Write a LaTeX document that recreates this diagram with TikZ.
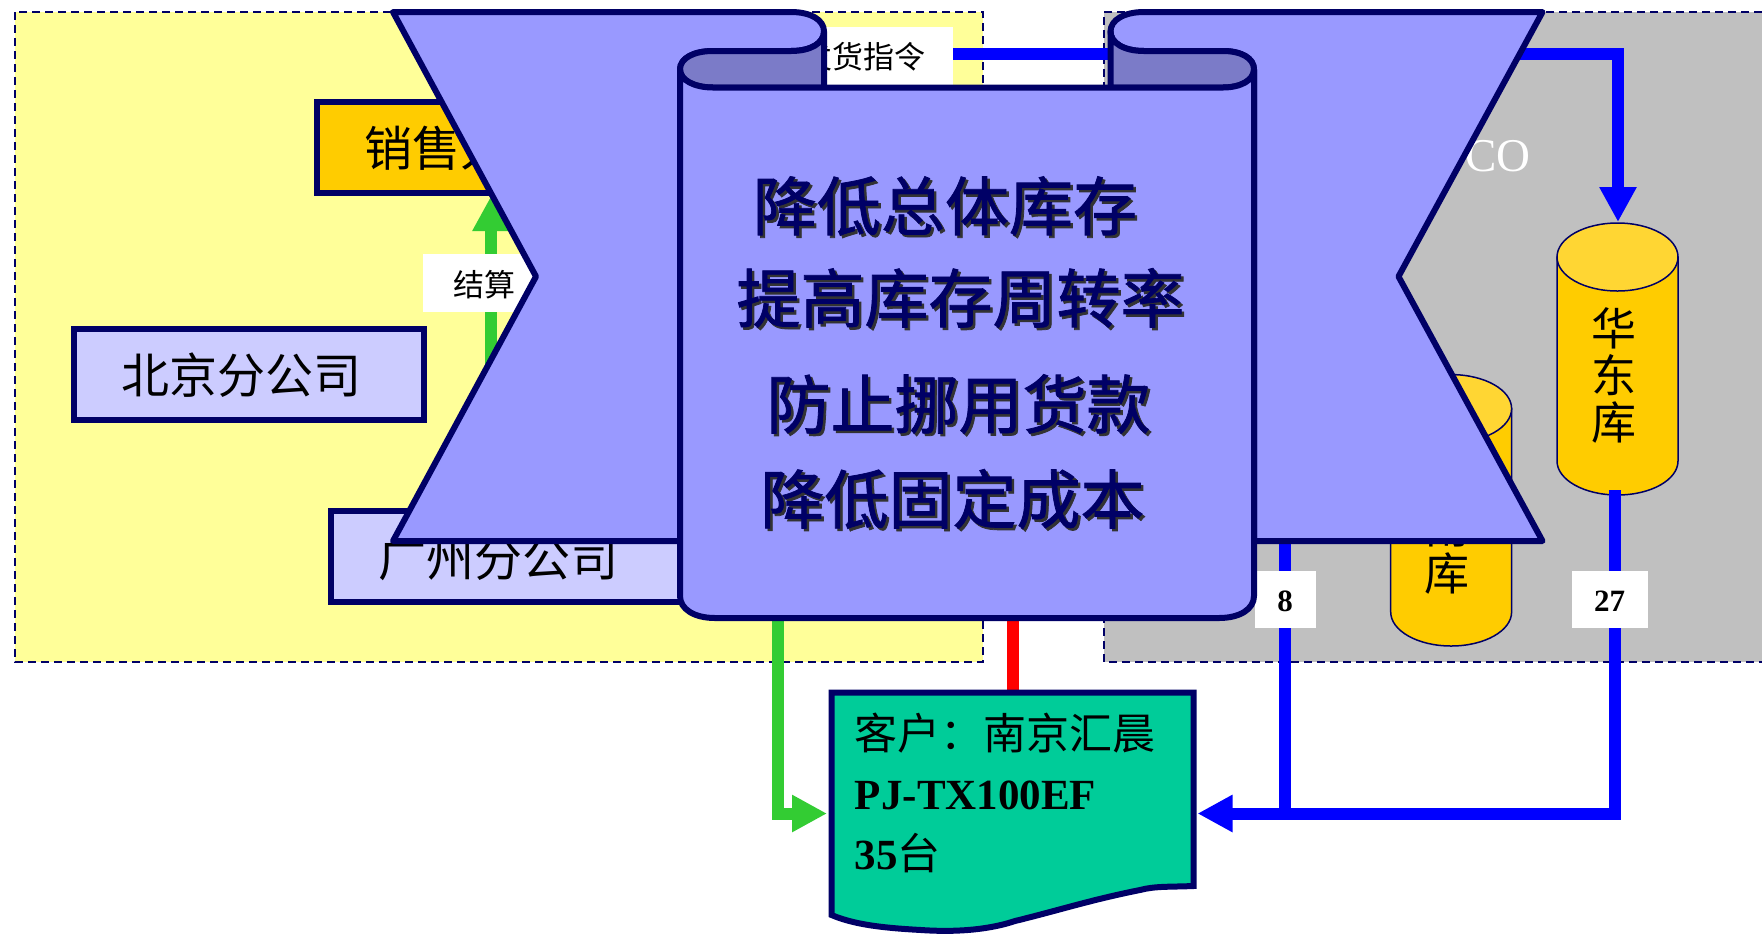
\documentclass[tikz,border=0pt]{standalone}
\usepackage{fontspec}
\setmainfont{Liberation Serif}
\newfontfamily\cjk{Noto Sans CJK SC}
\newfontfamily\cjkfat[FakeBold=1.2]{Noto Sans CJK SC}
\usetikzlibrary{arrows.meta}
\definecolor{navyc}{HTML}{000066}
\definecolor{ribbonc}{HTML}{9999FF}
\definecolor{foldc}{HTML}{7B7BC8}
\definecolor{yellowz}{HTML}{FFFF99}
\definecolor{greyz}{HTML}{C0C0C0}
\definecolor{orangec}{HTML}{FFCC00}
\definecolor{orangel}{HTML}{FFD633}
\definecolor{lilac}{HTML}{CCCCFF}
\definecolor{tealc}{HTML}{00CC99}
\definecolor{greenc}{HTML}{33CC33}
\definecolor{bluec}{HTML}{0000FF}
\definecolor{redc}{HTML}{FF0000}
\newcommand{\fsz}[1]{\fontsize{#1}{#1}\selectfont}
\tikzset{
  zoneline/.style={draw=navyc,line width=0.75pt,dash pattern=on 4pt off 2.5pt},
  orgbox/.style={draw=navyc,line width=3pt,fill=lilac,inner sep=0pt},
  orgtext/.style={inner sep=0pt,font=\cjk\fsz{24}},
  whitelabel/.style={fill=white,inner sep=0pt},
  ribbon/.style={draw=navyc,line width=3pt,line join=round,fill=ribbonc},
  fold/.style={draw=navyc,line width=3pt,line join=round,fill=foldc},
  can/.style={draw=navyc,line width=0.75pt},
  cantext/.style={inner sep=0pt,align=center,font=\cjk\fontsize{22.5}{23.5}\selectfont},
  conn/.style={line width=6pt,line join=miter},
  bigtip/.style={-{Triangle[length=17.5pt,width=17.5pt]}},
  maintext/.style={inner sep=0pt,text=navyc,font=\cjkfat\fsz{32}},
  mainshadow/.style={inner sep=0pt,text=black!80,font=\cjkfat\fsz{32}},
  custtext/.style={inner sep=0pt,anchor=west,font=\fsz{21.5}},
}
\begin{document}
\begin{tikzpicture}[x=0.5pt,y=-0.5pt]
\useasboundingbox (0,0) rectangle (1762,933);
% zones
\fill[yellowz] (15,12) rectangle (983,662);
\draw[zoneline] (15,12) rectangle (983,662);
\fill[greyz] (1104,12) rectangle (1762,662);
\draw[zoneline] (1762,12) -- (1104,12) -- (1104,662) -- (1762,662);
\node[inner sep=0pt,text=white,anchor=east,font=\fsz{23.5}] (co) at (1531,156) {CO};
% named ends
\coordinate (gstart) at (491,510);
\coordinate (gtip) at (491,196);
\coordinate (orderout) at (953,54);
\coordinate (ordertip) at (1618,222);
\coordinate (g2start) at (778,600);
\coordinate (r2start) at (1012.5,600);
\coordinate (custL) at (827,813.5);
\coordinate (custR) at (1197.5,813.5);
\coordinate (custT) at (1012.5,692);
\coordinate (b8start) at (1285,530);
\coordinate (b27start) at (1615,490);
\coordinate (b27corner) at (1615,813.5);
% boxes
\node[orgbox,fill=orangec,minimum width=150pt,minimum height=45.5pt,anchor=north west] (sales) at (314,99) {};
\node[orgtext,anchor=west] (salestxt) at (364,148) {销售人};
\node[orgbox,minimum width=175pt,minimum height=45.5pt] (bj) at (249,374.5) {};
\node[orgtext] (bjtxt) at (241,375) {北京分公司};
\node[orgbox,minimum width=200pt,minimum height=45.5pt,anchor=north west] (gz) at (328,507.5) {};
\node[orgtext] (gztxt) at (498,558) {广州分公司};
% connectors
\draw[conn,greenc,bigtip] (gstart) -- (gtip);
\node[whitelabel,minimum width=61pt,minimum height=29pt] (settle) at (484,283) {};
\node[inner sep=0pt,font=\cjk\fsz{15.5}] (settletxt) at (484,285) {结算};
\node[whitelabel,minimum width=90pt,minimum height=30pt] (order) at (863,57) {};
\node[inner sep=0pt,font=\cjk\fsz{15.5}] (ordertxt) at (863,57) {发货指令};
\draw[conn,bluec,bigtip] (orderout) -| (ordertip);
% cylinders
\filldraw[can,fill=orangec] (1390.7,408.6) -- (1390.7,612) arc[x radius=60.45,y radius=34,start angle=180,end angle=0] -- (1511.6,408.6) -- cycle;
\filldraw[can,fill=orangel] (1451.15,408.6) ellipse[x radius=60.45,y radius=34];
\node[cantext] (south) at (1447,526) {华\\南\\库};
\filldraw[can,fill=orangec] (1557,257) -- (1557,461) arc[x radius=60.5,y radius=34,start angle=180,end angle=0] -- (1678,257) -- cycle;
\filldraw[can,fill=orangel] (1617.5,257) ellipse[x radius=60.5,y radius=34];
\node[cantext] (east) at (1614,375) {华\\东\\库};
% customer
\draw[conn,redc] (r2start) -- (custT);
\draw[conn,greenc,bigtip] (g2start) |- (custL);
\draw[conn,bluec] (b8start) -- (b8start |- custR);
\draw[conn,bluec,bigtip] (b27start) -- (b27corner) -- (custR);
\node[whitelabel,minimum width=30.5pt,minimum height=28.5pt] (n8) at (1285.5,599.5) {};
\node[inner sep=0pt,font=\bfseries\fsz{15.5}] (n8txt) at (1285,601) {8};
\node[whitelabel,minimum width=38pt,minimum height=28.5pt] (n27) at (1610,599.5) {};
\node[inner sep=0pt,font=\bfseries\fsz{15.5}] (n27txt) at (1609.5,601) {27};
\filldraw[draw=navyc,line width=3pt,line join=miter,fill=tealc]
  (831.5,692.5) -- (1193.5,692.5) -- (1193.5,886)
  .. controls (1170,887) and (1155,886) .. (1140,890)
  .. controls (1090,900) and (1060,910) .. (1015,921)
  .. controls (985,931) and (950,932) .. (921,930)
  .. controls (885,928) and (855,925) .. (831.5,915) -- cycle;
\node[custtext,font=\cjk\fsz{21.5}] (c1) at (854.5,733) {客户：南京汇晨};
\node[custtext,font=\bfseries\fsz{21.5}] (c2) at (854.5,795) {PJ-TX100EF};
\node[custtext] (c3) at (854.5,853) {\textbf{35}{\cjk 台}};
% ribbon
\path[ribbon] (393,12) -- (791,12) .. controls (811,12) and (824,20) .. (824,31.5)
  .. controls (824,43) and (811,51) .. (791,51) -- (713,51)
  .. controls (694,51) and (680,58) .. (680,69.5) -- (680,541) -- (393,541) -- (536,276.5) -- cycle;
\path[ribbon] (1542.5,12) -- (1144,12) .. controls (1124,12) and (1110.5,20) .. (1110.5,31.5)
  .. controls (1110.5,43) and (1124,51) .. (1144,51) -- (1223,51)
  .. controls (1241,51) and (1254,58) .. (1254,69.5) -- (1254,541) -- (1542.5,541) -- (1398.5,276.5) -- cycle;
\path[fold] (824,31.5) -- (824,87.5) -- (713,87.5) .. controls (694,87.5) and (680,80) .. (680,69.5)
  .. controls (680,58) and (694,51) .. (713,51) -- (791,51) .. controls (811,51) and (824,43) .. (824,31.5) -- cycle;
\path[fold] (1110.5,31.5) -- (1110.5,87.5) -- (1223,87.5) .. controls (1241,87.5) and (1254,80) .. (1254,69.5)
  .. controls (1254,58) and (1241,51) .. (1223,51) -- (1144,51) .. controls (1124,51) and (1110.5,43) .. (1110.5,31.5) -- cycle;
\path[ribbon] (680,69.5) .. controls (680,80) and (694,87.5) .. (713,87.5) -- (1223,87.5)
  .. controls (1241,87.5) and (1254,80) .. (1254,69.5) -- (1254,596)
  .. controls (1254,609) and (1240,618) .. (1219,618) -- (715,618)
  .. controls (694,618) and (680,609) .. (680,596) -- cycle;
% title lines
\node[mainshadow] (s1) at (947.5,208.5) {降低总体库存};
\node[mainshadow] (s2) at (963,300.5) {提高库存周转率};
\node[mainshadow] (s3) at (961,406.5) {防止挪用货款};
\node[mainshadow] (s4) at (955,501.5) {降低固定成本};
\node[maintext] (t1) at (945,206) {降低总体库存};
\node[maintext] (t2) at (960.5,298) {提高库存周转率};
\node[maintext] (t3) at (958.5,404) {防止挪用货款};
\node[maintext] (t4) at (952.5,499) {降低固定成本};
\end{tikzpicture}
\end{document}
